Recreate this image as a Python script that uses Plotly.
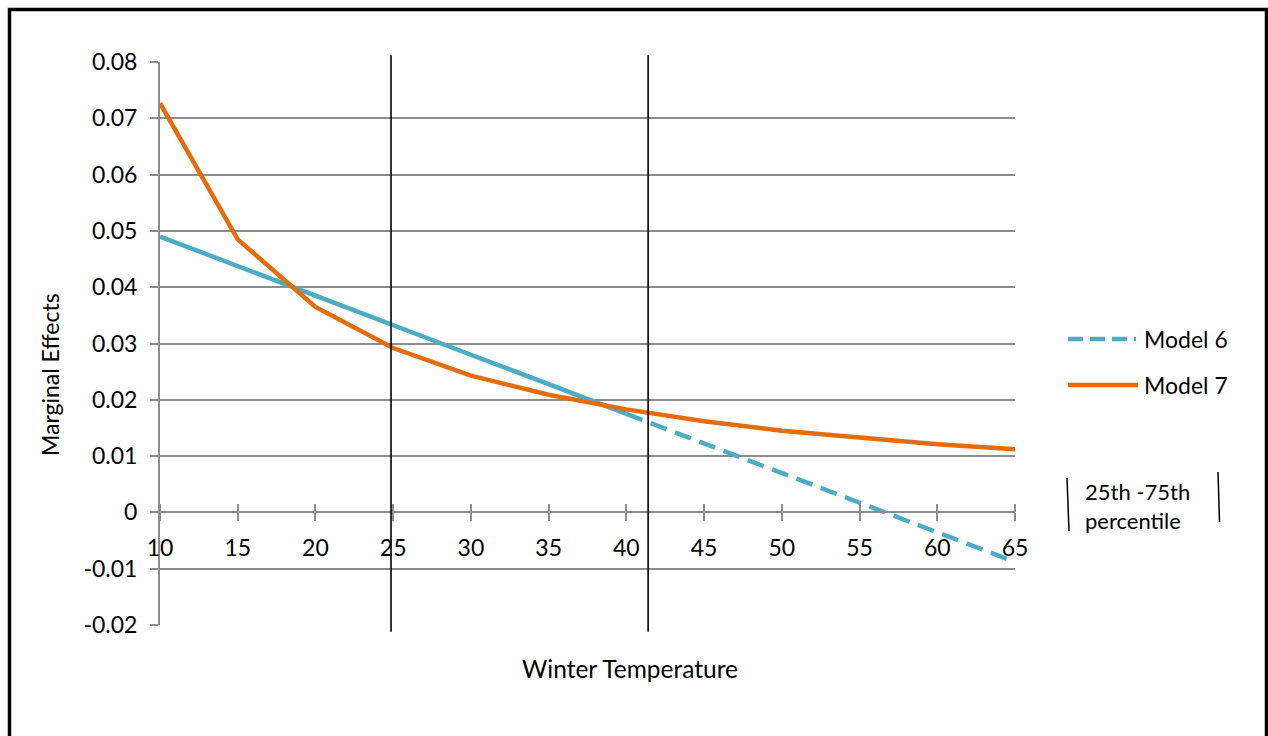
import plotly.graph_objects as go

temps = [10, 15, 20, 25, 30, 35, 40, 45, 50, 55, 60, 65]
model6 = [0.0490, 0.0437, 0.0385, 0.0333, 0.0280, 0.0228, 0.0175, 0.0122, 0.0070, 0.0017, -0.0035, -0.0088]
model7 = [0.0727, 0.0485, 0.0365, 0.0292, 0.0243, 0.0209, 0.0183, 0.0162, 0.0145, 0.0132, 0.0121, 0.0112]
percentiles = [24.86, 41.4]
y_ticks = [-0.02, -0.01, 0, 0.01, 0.02, 0.03, 0.04, 0.05, 0.06, 0.07, 0.08]
y_ticktext = ["-0.02", "-0.01", "0", "0.01", "0.02", "0.03", "0.04", "0.05", "0.06", "0.07", "0.08"]
split_temp = 40
legend_names = ["Model 6", "Model 7"]

BLUE = "#4BACC6"
ORANGE = "#E46C0A"
GRAY = "#8C8C8C"
FONT = "Lato"
DASH = "17px,9px"

solid_idx = [i for i, t in enumerate(temps) if t <= split_temp]
dash_idx = [i for i, t in enumerate(temps) if t >= split_temp]

fig = go.Figure()
fig.add_trace(go.Scatter(
    x=[temps[i] for i in solid_idx], y=[model6[i] for i in solid_idx],
    mode="lines", line=dict(color=BLUE, width=4.5), showlegend=False, name="Model 6"))
fig.add_trace(go.Scatter(
    x=[temps[i] for i in dash_idx], y=[model6[i] for i in dash_idx],
    mode="lines", line=dict(color=BLUE, width=4.5, dash=DASH),
    name=legend_names[0], showlegend=False))
fig.add_trace(go.Scatter(
    x=temps, y=model7, mode="lines", line=dict(color=ORANGE, width=4.5),
    name=legend_names[1], showlegend=False))

# helper trace for the upward half of the crossing x ticks
fig.add_trace(go.Scatter(x=[temps[0]], y=[0], xaxis="x2", mode="markers",
                         marker=dict(opacity=0), showlegend=False, hoverinfo="skip"))

for p in percentiles:
    fig.add_shape(type="line", xref="x", yref="paper", x0=p, x1=p, y0=-0.012, y1=1.012,
                  line=dict(color="black", width=1.6))

W, H = 1268, 736
L, R, T, B = 160, 253, 62, 111
pw = W - L - R
ph = H - T - B

def px(xp):
    return (xp - L) / pw

def py(yp):
    return (H - B - yp) / ph

# outer border
fig.add_shape(type="rect", xref="paper", yref="paper",
              x0=px(9.5), x1=px(1266.5), y0=py(760), y1=py(9.5),
              line=dict(color="black", width=3.5), layer="above")

# legend (drawn manually to match long legend keys)
fig.add_shape(type="line", xref="paper", yref="paper",
              x0=px(1068), x1=px(1136), y0=py(339), y1=py(339),
              line=dict(color=BLUE, width=4.5, dash="15px,7px"))
fig.add_shape(type="line", xref="paper", yref="paper",
              x0=px(1068), x1=px(1138), y0=py(385), y1=py(385),
              line=dict(color=ORANGE, width=4.5))
for name, yy in zip(legend_names, [339, 385]):
    fig.add_annotation(xref="paper", yref="paper", x=px(1142), y=py(yy),
                       xanchor="left", yanchor="middle", showarrow=False,
                       text=name, font=dict(size=23, color="black", family=FONT))

# percentile legend markers
fig.add_shape(type="line", xref="paper", yref="paper",
              x0=px(1067), x1=px(1069), y0=py(478), y1=py(531),
              line=dict(color="black", width=1.5))
fig.add_shape(type="line", xref="paper", yref="paper",
              x0=px(1218), x1=px(1219.5), y0=py(472), y1=py(522),
              line=dict(color="black", width=1.5))
fig.add_annotation(xref="paper", yref="paper", x=px(1083), y=py(506),
                   xanchor="left", yanchor="middle", align="left", showarrow=False,
                   text="25th -75th<br>percentile", font=dict(size=22, color="black", family=FONT))

fig.add_annotation(xref="paper", yref="paper", x=px(629.5), y=py(668),
                   xanchor="center", yanchor="middle", showarrow=False,
                   text="Winter Temperature", font=dict(size=24.5, color="black", family=FONT))
fig.add_annotation(xref="paper", yref="paper", x=px(50), y=py(375),
                   xanchor="center", yanchor="middle", showarrow=False, textangle=-90,
                   text="Marginal Effects", font=dict(size=23, color="black", family=FONT))

zero_pos = (0 - y_ticks[0]) / (y_ticks[-1] - y_ticks[0])

fig.update_layout(
    width=W, height=H,
    margin=dict(l=L, r=R, t=T, b=B),
    paper_bgcolor="white", plot_bgcolor="white",
    font=dict(family=FONT, size=23, color="black"),
    xaxis=dict(range=[temps[0], temps[-1]], tickvals=temps, ticktext=[str(t) for t in temps],
               anchor="free", position=zero_pos, showline=True, linecolor=GRAY, linewidth=2,
               ticks="outside", ticklen=8, tickwidth=2, tickcolor=GRAY, showgrid=False,
               zeroline=False, ticklabelstandoff=7,
               tickfont=dict(size=23, color="black"), fixedrange=True),
    xaxis2=dict(range=[temps[0], temps[-1]], tickvals=temps, overlaying="x",
                anchor="free", position=zero_pos, showline=False, side="top",
                ticks="outside", ticklen=8, tickwidth=2, tickcolor=GRAY, showgrid=False,
                zeroline=False, showticklabels=False),
    yaxis=dict(range=[y_ticks[0], y_ticks[-1]], tickvals=y_ticks, ticktext=y_ticktext,
               showline=True, linecolor=GRAY, linewidth=2, ticks="outside", ticklen=8,
               tickwidth=2, tickcolor=GRAY, showgrid=True, gridcolor=GRAY, gridwidth=2,
               zeroline=False, ticklabelstandoff=8, tickfont=dict(size=23, color="black")),
    showlegend=False,
)

fig.write_html("out.html", config={"displayModeBar": False},
               post_script="document.body.style.margin='0';")
